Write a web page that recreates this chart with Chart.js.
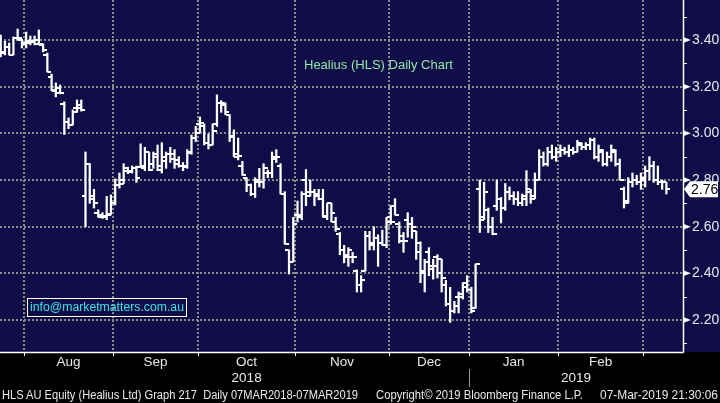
<!DOCTYPE html>
<html><head><meta charset="utf-8">
<script src="https://cdn.jsdelivr.net/npm/chart.js@4/dist/chart.umd.min.js"></script>
<style>
html,body{margin:0;padding:0;background:#000;overflow:hidden;}
#wrap{width:720px;height:403px;position:relative;}
canvas{display:block;}
.txt{position:absolute;white-space:nowrap;font-family:"Liberation Sans",Arial,sans-serif;transform-origin:0 50%;}
#title{left:304px;top:57px;font-size:13px;line-height:16px;color:#8fe6a6;}
#email{left:27px;top:298px;height:17px;width:158px;border:1px solid #fff;}
#emailt{left:29.5px;top:300px;font-size:12.5px;line-height:15px;color:#3fe3e6;}
.foot{top:388px;font-size:12.5px;line-height:14px;color:#eaeaea;}
</style>
</head><body>
<div id="wrap">
<canvas id="c" width="720" height="403"></canvas>
<div id="title" class="txt">Healius (HLS) Daily Chart</div>
<div id="email" class="txt"></div>
<div id="emailt" class="txt">info@marketmatters.com.au</div>
<div id="f1" class="txt foot" style="left:2px">HLS AU Equity (Healius Ltd) Graph 217&nbsp;&nbsp;Daily 07MAR2018-07MAR2019</div>
<div id="f2" class="txt foot" style="left:376px">Copyright© 2019 Bloomberg Finance L.P.</div>
<div id="f3" class="txt foot" style="left:600px">07-Mar-2019 21:30:06</div>
</div>
<script>
// ---- data (one entry per trading day, late Jul 2018 -> 7 Mar 2019) ----
const opens = [3.33,3.349,3.37,3.336,3.41,3.40,3.387,3.395,3.39,3.383, 3.38,3.336,3.242,3.182,3.194,3.126,3.05,3.036,3.11,3.12, 2.73,2.87,2.73,2.66,2.65,2.645,2.655,2.70,2.78,2.785, 2.85,2.84,2.85,2.855,2.85,2.92,2.87,2.91,2.86,2.90, 2.91,2.89,2.87,2.86,2.86,2.917,2.98,3.04,3.03,2.96, 2.95,3.04,3.13,3.12,3.08,2.99,2.91,2.86,2.81,2.78, 2.74,2.80,2.79,2.83,2.83,2.90,2.86,2.74,2.50,2.45, 2.65,2.64,2.80,2.75,2.75,2.73,2.72,2.64,2.70,2.62, 2.57,2.50,2.48,2.47,2.41,2.35,2.41,2.56,2.53,2.55, 2.53,2.52,2.64,2.69,2.61,2.56,2.63,2.61,2.58,2.53, 2.40,2.49,2.43,2.47,2.46,2.35,2.27,2.24,2.30,2.31, 2.36,2.33,2.25,2.76,2.64,2.67,2.60,2.69,2.72,2.68, 2.75,2.73,2.72,2.70,2.72,2.75,2.73,2.80,2.90,2.87, 2.92,2.90,2.92,2.93,2.92,2.93,2.92,2.95,2.94,2.95, 2.97,2.90,2.92,2.87,2.90,2.92,2.87,2.76,2.71,2.79, 2.80,2.79,2.80,2.84,2.86,2.80,2.79,2.79];
const highs = [3.421,3.395,3.387,3.413,3.447,3.404,3.434,3.417,3.417,3.443, 3.383,3.344,3.254,3.216,3.207,3.135,3.066,3.10,3.143,3.143, 2.92,2.87,2.76,2.672,2.66,2.73,2.736,2.805,2.83,2.87, 2.855,2.86,2.86,2.955,2.94,2.92,2.92,2.95,2.96,2.92, 2.94,2.93,2.90,2.875,2.93,2.993,3.03,3.07,3.04,2.997, 3.04,3.165,3.14,3.13,3.08,3.015,2.98,2.88,2.81,2.783, 2.81,2.85,2.87,2.843,2.92,2.93,2.87,2.75,2.50,2.64, 2.71,2.75,2.845,2.80,2.76,2.76,2.76,2.70,2.70,2.64, 2.575,2.52,2.51,2.49,2.415,2.39,2.58,2.58,2.60,2.565, 2.585,2.64,2.69,2.72,2.62,2.575,2.66,2.64,2.58,2.535, 2.46,2.51,2.46,2.48,2.46,2.37,2.34,2.28,2.32,2.36, 2.39,2.34,2.44,2.80,2.79,2.68,2.64,2.80,2.725,2.785, 2.77,2.75,2.75,2.74,2.84,2.76,2.83,2.93,2.92,2.94, 2.95,2.94,2.95,2.94,2.95,2.94,2.97,2.96,2.96,2.98, 2.98,2.95,2.93,2.92,2.95,2.93,2.89,2.77,2.81,2.83, 2.82,2.83,2.86,2.90,2.88,2.86,2.80,2.79];
const lows = [3.327,3.336,3.336,3.336,3.40,3.366,3.366,3.379,3.379,3.379, 3.349,3.263,3.182,3.156,3.169,2.995,3.02,3.036,3.09,3.095, 2.60,2.70,2.68,2.64,2.635,2.63,2.651,2.693,2.765,2.785, 2.827,2.83,2.79,2.855,2.84,2.84,2.85,2.84,2.83,2.85, 2.875,2.85,2.855,2.84,2.85,2.91,2.965,3.005,2.95,2.933, 2.95,3.03,3.09,3.08,2.965,2.90,2.886,2.82,2.75,2.733, 2.725,2.77,2.765,2.81,2.81,2.875,2.74,2.525,2.397,2.45, 2.62,2.63,2.69,2.73,2.69,2.715,2.64,2.63,2.62,2.58, 2.48,2.445,2.43,2.445,2.32,2.32,2.41,2.50,2.50,2.43, 2.52,2.51,2.61,2.65,2.53,2.49,2.555,2.55,2.46,2.36, 2.32,2.39,2.375,2.38,2.32,2.26,2.19,2.23,2.23,2.29, 2.32,2.23,2.25,2.575,2.63,2.575,2.565,2.67,2.616,2.67, 2.715,2.695,2.69,2.69,2.69,2.70,2.72,2.80,2.86,2.86, 2.89,2.88,2.90,2.91,2.90,2.91,2.92,2.93,2.93,2.93, 2.89,2.88,2.86,2.86,2.88,2.86,2.80,2.68,2.70,2.77, 2.78,2.76,2.77,2.80,2.79,2.78,2.76,2.74];
const closes = [3.344,3.37,3.336,3.41,3.41,3.383,3.387,3.395,3.398,3.383, 3.357,3.263,3.186,3.173,3.173,3.05,3.036,3.09,3.11,3.10, 2.87,2.72,2.70,2.64,2.64,2.65,2.70,2.78,2.80,2.84, 2.835,2.85,2.81,2.86,2.92,2.845,2.90,2.845,2.88,2.91, 2.91,2.885,2.86,2.855,2.92,2.98,3.00,3.045,2.96,2.95, 3.01,3.13,3.13,3.09,2.985,2.90,2.905,2.82,2.78,2.74, 2.79,2.79,2.85,2.83,2.89,2.90,2.74,2.525,2.45,2.61, 2.65,2.74,2.73,2.75,2.74,2.72,2.645,2.70,2.66,2.59, 2.50,2.47,2.50,2.47,2.35,2.37,2.56,2.52,2.55,2.53, 2.52,2.62,2.62,2.65,2.54,2.54,2.61,2.60,2.49,2.41, 2.45,2.42,2.43,2.40,2.38,2.27,2.24,2.26,2.30,2.34, 2.33,2.24,2.44,2.63,2.75,2.60,2.57,2.72,2.68,2.75, 2.73,2.72,2.70,2.73,2.76,2.72,2.80,2.90,2.87,2.92, 2.90,2.92,2.93,2.92,2.93,2.92,2.96,2.94,2.95,2.97, 2.90,2.93,2.87,2.90,2.93,2.87,2.80,2.70,2.79,2.80, 2.79,2.81,2.84,2.86,2.80,2.79,2.79,2.76];
const monthLabels = ['Aug','Sep','Oct','Nov','Dec','Jan','Feb'];
const monthStarts = [5.5,26.5,46.5,69.5,91.5,110.5,131.5,151.5]; // bar-index boundaries where each month begins
const yearLabels = ['2018','2019'];
const yearStarts = [5.5,110.5];
const priceTicks = [2.20,2.40,2.60,2.80,3.00,3.20,3.40];
const lastPrice = 2.76;

// ---- styling constants ----
const NAVY = '#0f0c48';
const GRID = '#8a8a8a';
const TXT = '#e8e8ee';
const FONT = '"Liberation Sans", Arial, sans-serif';
const STEP = 4.24;   // px per trading day
const PLOT_W = 683, PLOT_H = 352;

function tickImg(side){
  const c = document.createElement('canvas');
  c.width = 8; c.height = 2;
  const g = c.getContext('2d');
  g.fillStyle = '#fff';
  g.fillRect(side === 'L' ? 0 : 4, 0, 4, 2);
  return c;
}
const openImg = tickImg('L'), closeImg = tickImg('R');

const idx = closes.map((_, i) => i);
const hl = idx.map(i => ({x: i, y: [lows[i], highs[i]]}));
const op = idx.map(i => ({x: i, y: opens[i]}));
const cl = idx.map(i => ({x: i, y: closes[i]}));

const deco = {
  id: 'deco',
  beforeDraw(chart){
    const {ctx, chartArea: a} = chart;
    ctx.save();
    ctx.fillStyle = '#000';
    ctx.fillRect(0, 0, chart.width, chart.height);
    ctx.fillStyle = NAVY;
    ctx.fillRect(0, 0, chart.width, a.bottom);
    ctx.restore();
  },
  beforeDatasetsDraw(chart){
    const {ctx, chartArea: a, scales: {x, y}} = chart;
    ctx.save();
    ctx.strokeStyle = GRID;
    ctx.lineWidth = 2;
    ctx.setLineDash([2, 2]);
    priceTicks.forEach(v => {
      const py = Math.round(y.getPixelForValue(v));
      ctx.beginPath(); ctx.moveTo(a.left, py); ctx.lineTo(a.right, py); ctx.stroke();
    });
    monthStarts.forEach(v => {
      const px = Math.round(x.getPixelForValue(v));
      ctx.beginPath(); ctx.moveTo(px, a.top); ctx.lineTo(px, a.bottom); ctx.stroke();
    });
    ctx.restore();
  },
  afterDraw(chart){
    const {ctx, chartArea: a, scales: {x, y}} = chart;
    ctx.save();
    // axis lines
    ctx.strokeStyle = '#fff';
    ctx.lineWidth = 1.5;
    ctx.beginPath();
    ctx.moveTo(a.left, a.bottom + 0.5); ctx.lineTo(a.right + 0.5, a.bottom + 0.5);
    ctx.moveTo(a.right + 0.5, a.top); ctx.lineTo(a.right + 0.5, a.bottom + 0.5);
    ctx.stroke();
    // month ticks
    ctx.lineWidth = 1;
    monthStarts.forEach(v => {
      const px = Math.round(x.getPixelForValue(v)) + 0.5;
      ctx.beginPath(); ctx.moveTo(px, a.bottom); ctx.lineTo(px, a.bottom + 4); ctx.stroke();
    });
    // minor price ticks
    y.ticks.forEach(t => {
      const py = Math.round(y.getPixelForValue(t.value)) + 0.5;
      ctx.beginPath(); ctx.moveTo(a.right, py); ctx.lineTo(a.right + 4, py); ctx.stroke();
    });
    // major tick pennants
    ctx.fillStyle = '#fff';
    priceTicks.forEach(v => {
      const py = y.getPixelForValue(v);
      ctx.beginPath();
      ctx.moveTo(a.right, py - 3);
      ctx.lineTo(a.right + 8, py);
      ctx.lineTo(a.right, py + 3);
      ctx.closePath();
      ctx.fill();
    });
    // month labels centred between month boundaries
    ctx.font = '13.5px ' + FONT;
    ctx.fillStyle = TXT;
    ctx.textAlign = 'center';
    ctx.textBaseline = 'middle';
    monthLabels.forEach((m, k) => {
      const cx = (x.getPixelForValue(monthStarts[k]) + x.getPixelForValue(monthStarts[k + 1])) / 2;
      ctx.fillText(m, cx, a.bottom + 10);
    });
    yearLabels.forEach((yl, k) => {
      const x1 = x.getPixelForValue(yearStarts[k]);
      const x2 = k + 1 < yearStarts.length ? x.getPixelForValue(yearStarts[k + 1]) : a.right;
      ctx.fillText(yl, (x1 + x2) / 2, a.bottom + 26);
    });
    // year separator
    ctx.strokeStyle = '#9a9a9a';
    ctx.lineWidth = 1;
    const sx = Math.round(x.getPixelForValue(yearStarts[1])) + 0.5;
    ctx.beginPath(); ctx.moveTo(sx, a.bottom + 17); ctx.lineTo(sx, a.bottom + 35); ctx.stroke();
    // last price tag
    const ly = y.getPixelForValue(lastPrice);
    ctx.fillStyle = '#fff';
    ctx.beginPath();
    ctx.moveTo(a.right + 1, ly);
    ctx.lineTo(a.right + 7, ly - 8);
    ctx.lineTo(chart.width - 2, ly - 8);
    ctx.lineTo(chart.width - 2, ly + 8);
    ctx.lineTo(a.right + 7, ly + 8);
    ctx.closePath();
    ctx.fill();
    ctx.fillStyle = '#000';
    ctx.font = '14px ' + FONT;
    ctx.textAlign = 'left';
    ctx.fillText(lastPrice.toFixed(2), a.right + 8, ly + 1);
    ctx.restore();
  }
};

new Chart(document.getElementById('c'), {
  type: 'bar',
  data: {
    datasets: [
      {type: 'bar', data: hl, backgroundColor: '#fff', borderWidth: 0, barThickness: 1.6, grouped: false, order: 3},
      {type: 'scatter', data: op, pointStyle: openImg, pointRadius: 4, order: 2},
      {type: 'scatter', data: cl, pointStyle: closeImg, pointRadius: 4, order: 1}
    ]
  },
  options: {
    responsive: false,
    animation: false,
    devicePixelRatio: 1,
    layout: {padding: 0, autoPadding: false},
    plugins: {legend: {display: false}, tooltip: {enabled: false}},
    scales: {
      x: {
        type: 'linear',
        offset: false,
        min: -0.7 / STEP,
        max: (PLOT_W - 0.7) / STEP,
        afterFit: s => { s.height = 403 - PLOT_H; s.paddingLeft = 0; s.paddingRight = 0; },
        ticks: {display: false},
        grid: {display: false, offset: false, drawTicks: false},
        border: {display: false}
      },
      y: {
        type: 'linear',
        position: 'right',
        min: 2.20 - 32 / 233.333,
        max: 3.40 + 40 / 233.333,
        afterFit: s => { s.width = 720 - PLOT_W; s.paddingTop = 0; s.paddingBottom = 0; },
        ticks: {
          stepSize: 0.1, includeBounds: false, padding: 9,
          color: TXT, font: {family: FONT, size: 14},
          callback: v => priceTicks.some(p => Math.abs(p - v) < 1e-6) ? Number(v).toFixed(2) : ''
        },
        grid: {display: false, drawTicks: false},
        border: {display: false}
      }
    }
  },
  plugins: [deco]
});

// fit text widths to the reference layout
function fit(id, w){
  const el = document.getElementById(id);
  const cw = el.getBoundingClientRect().width;
  el.style.transform = 'scaleX(' + (w / cw) + ')';
}
fit('f1', 356); fit('f2', 207); fit('f3', 118); fit('emailt', 154);
</script>
</body></html>
